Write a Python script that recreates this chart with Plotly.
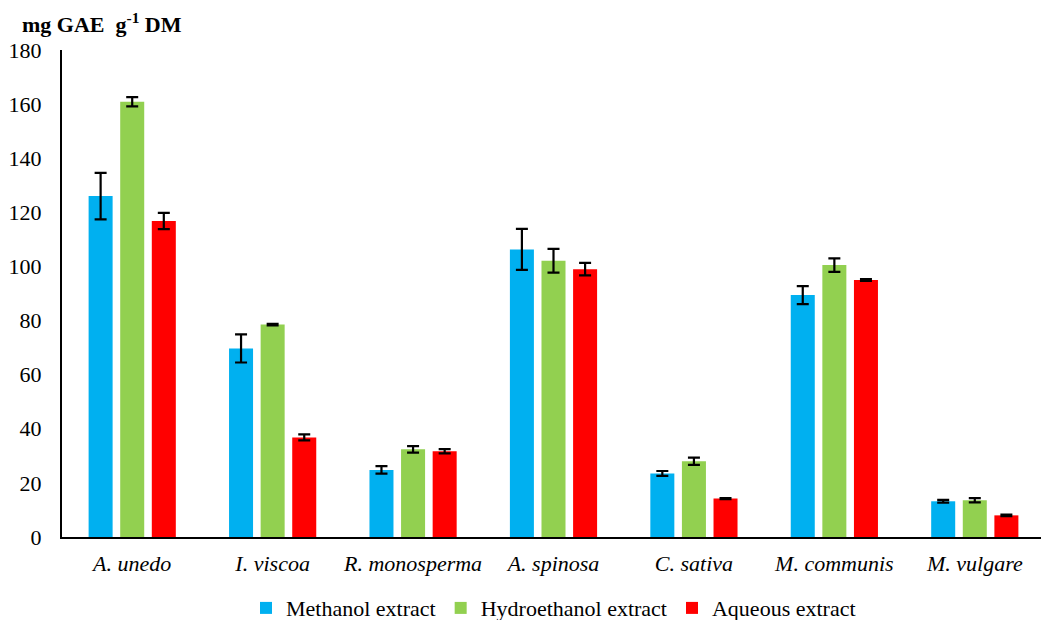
import plotly.graph_objects as go

categories = ["A. unedo", "I. viscoa", "R. monosperma", "A. spinosa", "C. sativa", "M. communis", "M. vulgare"]
methanol = [126.0, 69.7, 24.8, 106.3, 23.5, 89.4, 13.2]
methanol_err = [8.6, 5.2, 1.4, 7.6, 0.9, 3.3, 0.5]
hydroethanol = [160.9, 78.5, 32.4, 102.1, 28.0, 100.5, 13.6]
hydroethanol_err = [1.7, 0.3, 1.2, 4.4, 1.35, 2.5, 0.8]
aqueous = [116.8, 36.8, 31.7, 99.0, 14.2, 95.0, 8.0]
aqueous_err = [3.0, 1.1, 0.8, 2.3, 0.2, 0.3, 0.3]
y_ticks = [0, 20, 40, 60, 80, 100, 120, 140, 160, 180]

series = [
    ("Methanol extract", methanol, methanol_err, "#00B0F0"),
    ("Hydroethanol extract", hydroethanol, hydroethanol_err, "#92D050"),
    ("Aqueous extract", aqueous, aqueous_err, "#FF0000"),
]

FONT = "Liberation Serif"
fig = go.Figure()
for name, vals, errs, color in series:
    fig.add_trace(go.Bar(
        name=name, x=categories, y=vals, marker=dict(color=color, line=dict(width=0)),
        error_y=dict(type="data", array=errs, visible=True, color="black", thickness=2.2, width=6),
    ))

fig.update_layout(
    width=1041, height=612,
    barmode="group", bargap=0.325, bargroupgap=0.24,
    paper_bgcolor="white", plot_bgcolor="white",
    margin=dict(l=54, r=4, t=42, b=83, autoexpand=False),
    font=dict(family=FONT, size=22, color="black"),
    showlegend=True,
    legend=dict(orientation="h", x=0.5, xanchor="center", y=-0.146, yanchor="middle",
                font=dict(family=FONT, size=22), itemwidth=30, tracegroupgap=0),
    xaxis=dict(
        tickmode="array", tickvals=categories,
        ticktext=["<i>%s</i>" % c for c in categories],
        showline=True, linecolor="black", linewidth=2, ticks="", showgrid=False,
        tickfont=dict(family=FONT, size=22), ticklabelstandoff=6,
    ),
    yaxis=dict(
        range=[0, 180], tickvals=y_ticks, showline=True, linecolor="black", linewidth=2,
        ticks="", showgrid=False, zeroline=False, tickfont=dict(family=FONT, size=22),
        ticklabelstandoff=14,
    ),
    annotations=[dict(
        text="<b>mg GAE  g<sup>-1</sup> DM</b>", xref="paper", yref="paper",
        x=-0.043, y=1.0, xanchor="left", yanchor="bottom", yshift=11, showarrow=False,
        font=dict(family=FONT, size=22),
    )],
)

fig.write_html("out.html")
